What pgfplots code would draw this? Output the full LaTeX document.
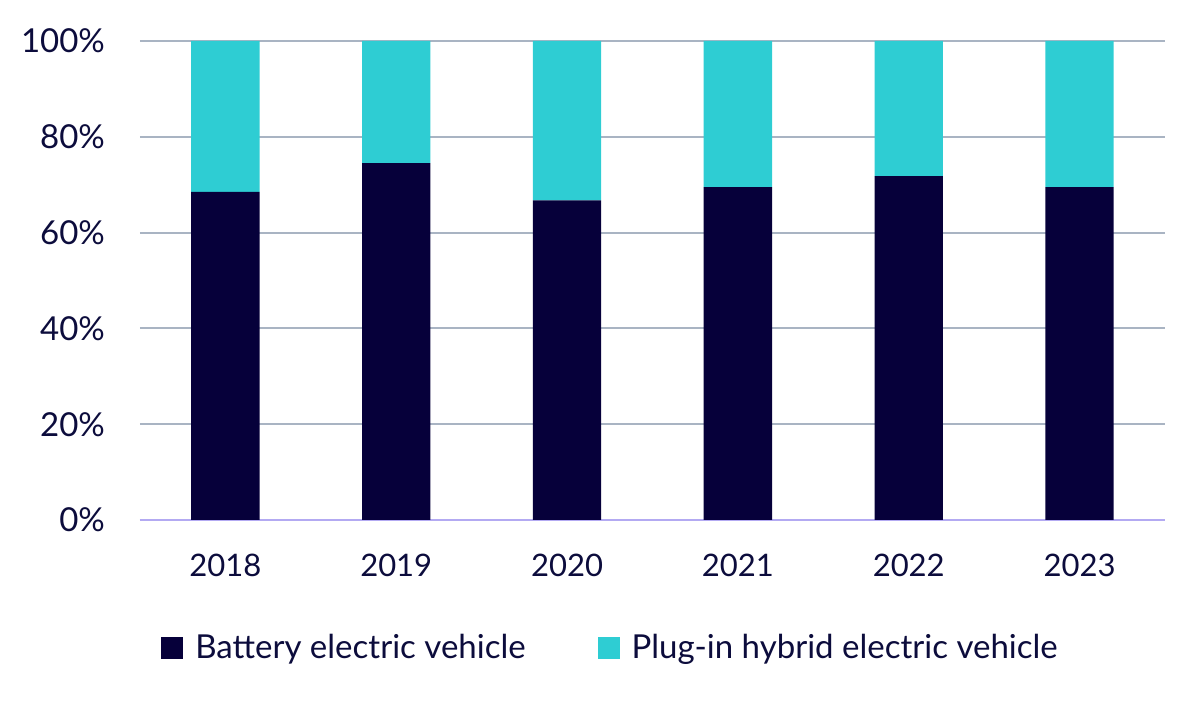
\documentclass[border=0pt]{standalone}
\usepackage{fontspec}
\setmainfont{Lato}
\usepackage{pgfplots}
\pgfplotsset{compat=1.18}
\definecolor{navy}{HTML}{06003A}
\definecolor{teal}{HTML}{2ECDD3}
\definecolor{txt}{HTML}{0C0C3C}
\definecolor{gridc}{HTML}{A9B4C3}
\definecolor{basec}{HTML}{B3AAF2}
\begin{document}
\begin{tikzpicture}
\useasboundingbox (0,0) rectangle (600pt,352.5pt);
\begin{axis}[
  at={(70pt,92.5pt)}, anchor=south west,
  scale only axis, width=512.5pt, height=239.5pt,
  ybar stacked, bar width=0.4,
  xmin=-0.5, xmax=5.5, ymin=0, ymax=100,
  xtick=data, xticklabels={2018,2019,2020,2021,2022,2023},
  ytick={0,20,40,60,80,100},
  yticklabel={\pgfmathprintnumber{\tick}\%},
  /pgf/number format/assume math mode=true,
  axis line style={draw=none},
  ymajorgrids, grid style={gridc, line width=1pt},
  major tick length=0pt,
  tick label style={font=\fontsize{16.5}{19}\selectfont, text=txt},
  xticklabel style={font=\fontsize{15.5}{18}\selectfont, yshift=-13.5pt},
  yticklabel style={xshift=-14pt},
  legend columns=2,
  legend style={draw=none, at={(0.462,-0.267)}, anchor=center,
    font=\fontsize{16.5}{19}\selectfont, text=txt,
    /tikz/every even column/.append style={column sep=32pt},
    /tikz/every odd column/.append style={column sep=2pt},
    nodes={inner xsep=4pt}},
  legend image code/.code={\fill[#1] (0pt,-5.5pt) rectangle (11pt,5.5pt);},
  clip=false,
]
\addplot[fill=navy, draw=none] coordinates {(0,68.5) (1,74.5) (2,66.7) (3,69.5) (4,71.8) (5,69.5)};
\addplot[fill=teal, draw=none] coordinates {(0,31.5) (1,25.5) (2,33.3) (3,30.5) (4,28.2) (5,30.5)};
\legend{Battery electric vehicle, Plug-in hybrid electric vehicle}
\draw[basec, line width=1pt] (axis cs:-0.5,0) -- (axis cs:5.5,0);
\end{axis}
\end{tikzpicture}
\end{document}
